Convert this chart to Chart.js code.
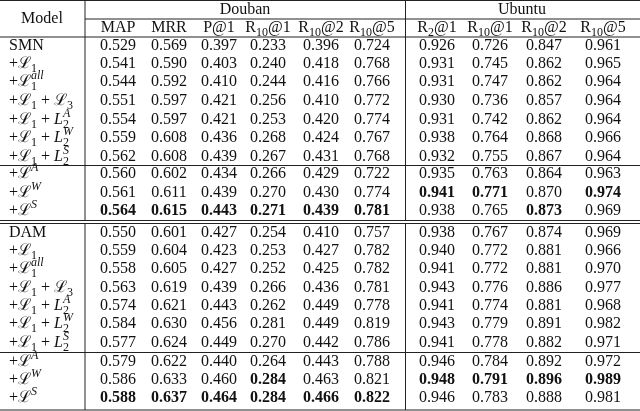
<!DOCTYPE html>
<html><head><meta charset="utf-8">
<script src="https://cdn.jsdelivr.net/npm/chart.js@4"></script>
<style>html,body{margin:0;background:#fff}#wrap{width:640px;height:411px}</style>
</head><body><div id="wrap"><canvas id="c"></canvas></div>
<script>
// Table content
const groups = ['Douban', 'Ubuntu'];
const columns = ['MAP', 'MRR', 'P@1', 'R_10@1', 'R_10@2', 'R_10@5', 'R_2@1', 'R_10@1', 'R_10@2', 'R_10@5'];
const models = [
  'SMN', '+ℒ_1', '+ℒ_1^all', '+ℒ_1 + ℒ_3', '+ℒ_1 + L_2^A', '+ℒ_1 + L_2^W', '+ℒ_1 + L_2^S', '+ℒ^A', '+ℒ^W', '+ℒ^S',
  'DAM', '+ℒ_1', '+ℒ_1^all', '+ℒ_1 + ℒ_3', '+ℒ_1 + L_2^A', '+ℒ_1 + L_2^W', '+ℒ_1 + L_2^S', '+ℒ^A', '+ℒ^W', '+ℒ^S'
];
const values = [
  ['0.529','0.569','0.397','0.233','0.396','0.724','0.926','0.726','0.847','0.961'],
  ['0.541','0.590','0.403','0.240','0.418','0.768','0.931','0.745','0.862','0.965'],
  ['0.544','0.592','0.410','0.244','0.416','0.766','0.931','0.747','0.862','0.964'],
  ['0.551','0.597','0.421','0.256','0.410','0.772','0.930','0.736','0.857','0.964'],
  ['0.554','0.597','0.421','0.253','0.420','0.774','0.931','0.742','0.862','0.964'],
  ['0.559','0.608','0.436','0.268','0.424','0.767','0.938','0.764','0.868','0.966'],
  ['0.562','0.608','0.439','0.267','0.431','0.768','0.932','0.755','0.867','0.964'],
  ['0.560','0.602','0.434','0.266','0.429','0.722','0.935','0.763','0.864','0.963'],
  ['0.561','0.611','0.439','0.270','0.430','0.774','0.941','0.771','0.870','0.974'],
  ['0.564','0.615','0.443','0.271','0.439','0.781','0.938','0.765','0.873','0.969'],
  ['0.550','0.601','0.427','0.254','0.410','0.757','0.938','0.767','0.874','0.969'],
  ['0.559','0.604','0.423','0.253','0.427','0.782','0.940','0.772','0.881','0.966'],
  ['0.558','0.605','0.427','0.252','0.425','0.782','0.941','0.772','0.881','0.970'],
  ['0.563','0.619','0.439','0.266','0.436','0.781','0.943','0.776','0.886','0.977'],
  ['0.574','0.621','0.443','0.262','0.449','0.778','0.941','0.774','0.881','0.968'],
  ['0.584','0.630','0.456','0.281','0.449','0.819','0.943','0.779','0.891','0.982'],
  ['0.577','0.624','0.449','0.270','0.442','0.786','0.941','0.778','0.882','0.971'],
  ['0.579','0.622','0.440','0.264','0.443','0.788','0.946','0.784','0.892','0.972'],
  ['0.586','0.633','0.460','0.284','0.463','0.821','0.948','0.791','0.896','0.989'],
  ['0.588','0.637','0.464','0.284','0.466','0.822','0.946','0.783','0.888','0.981']
];
// [row, col] of bold cells
const bold = [
  [8,6],[8,7],[8,9],
  [9,0],[9,1],[9,2],[9,3],[9,4],[9,5],[9,8],
  [18,3],[18,6],[18,7],[18,8],[18,9],
  [19,0],[19,1],[19,2],[19,3],[19,4],[19,5]
];

// layout (pixel units on the chart's linear scales)
const colX = [118, 169, 219, 268, 321, 372, 437, 490, 544, 603];
const rowY = [46,64,82,101,120,138,157,174,193,211, 233,251,269,288,306,324,343,362,380,398];
const font = '"Liberation Serif", serif';
const SIZE = 16;

function parseRich(s) {
  const parts = [];
  let i = 0, buf = '';
  while (i < s.length) {
    const ch = s[i];
    if (ch === '_' || ch === '^') {
      if (buf) { parts.push({t: buf}); buf = ''; }
      const m = s.slice(i + 1).match(/^(all|[0-9]+|[A-Za-z])/);
      parts.push({t: m[0], k: ch});
      i += 1 + m[0].length;
    } else { buf += ch; i++; }
  }
  if (buf) parts.push({t: buf});
  return parts;
}

function drawRich(ctx, s, x, y, align) {
  const parts = parseRich(s);
  const big = SIZE + 'px ' + font, small = '12px ' + font;
  const italBig = 'italic ' + big, italSmall = 'italic ' + small;
  // split plain text so a trailing "L" is italic
  const items = [];
  parts.forEach((pt, p) => {
    if (!pt.k) {
      if (/L$/.test(pt.t)) {
        if (pt.t.length > 1) items.push({t: pt.t.slice(0, -1), f: big, dy: 0, adv: true});
        items.push({t: 'L', f: italBig, dy: 0, adv: true});
      } else items.push({t: pt.t, f: big, dy: 0, adv: true});
    } else {
      const f = /[A-Za-z]/.test(pt.t) ? italSmall : small;
      const next = parts[p + 1];
      items.push({t: pt.t, f: f, dy: pt.k === '_' ? 5 : -6, adv: !(pt.k === '_' && next && next.k === '^')});
    }
  });
  const meas = items.map(it => { ctx.font = it.f; return ctx.measureText(it.t).width; });
  let w = 0, pending = 0;
  items.forEach((it, k) => { pending = Math.max(pending, meas[k]); if (it.adv) { w += pending; pending = 0; } });
  let sx = align === 'center' ? x - w / 2 : x;
  ctx.textAlign = 'left'; ctx.textBaseline = 'middle';
  pending = 0;
  items.forEach((it, k) => {
    ctx.font = it.f;
    ctx.fillText(it.t, sx, y + it.dy);
    pending = Math.max(pending, meas[k]);
    if (it.adv) { sx += pending; pending = 0; }
  });
}

const tablePlugin = {
  id: 'table',
  afterDraw(chart) {
    const ctx = chart.ctx, xs = chart.scales.x, ys = chart.scales.y;
    const X = v => xs.getPixelForValue(v), Y = v => ys.getPixelForValue(v);
    ctx.save();
    ctx.fillStyle = '#111'; ctx.strokeStyle = '#222';
    const hline = (y, x0, x1) => { ctx.lineWidth = 1; ctx.beginPath(); ctx.moveTo(X(x0), Y(y)); ctx.lineTo(X(x1), Y(y)); ctx.stroke(); };
    const vline = (x, y0, y1) => { ctx.lineWidth = 1; ctx.beginPath(); ctx.moveTo(X(x), Y(y0)); ctx.lineTo(X(x), Y(y1)); ctx.stroke(); };
    hline(0.5, 0, 640); hline(37, 0, 640); hline(165.5, 0, 640);
    hline(220.5, 0, 640); hline(223.5, 0, 640); hline(352.5, 0, 640); hline(410, 0, 640);
    hline(19, 85, 640);
    vline(85, 0, 220.5); vline(85, 223.5, 410);
    vline(405.5, 0, 220.5); vline(405.5, 223.5, 410);
    ctx.textAlign = 'center'; ctx.textBaseline = 'middle';
    ctx.font = SIZE + 'px ' + font;
    ctx.fillText('Model', X(42), Y(19));
    ctx.fillText(groups[0], X(245), Y(10));
    ctx.fillText(groups[1], X(522), Y(10));
    columns.forEach((c, i) => drawRich(ctx, c, X(colX[i]), Y(28), 'center'));
    models.forEach((m, r) => {
      drawRich(ctx, m, X(9), Y(rowY[r]), 'left');
      values[r].forEach((v, c) => {
        const b = bold.some(p => p[0] === r && p[1] === c);
        ctx.font = (b ? 'bold ' : '') + SIZE + 'px ' + font;
        ctx.textAlign = 'center';
        ctx.fillText(v, X(colX[c]), Y(rowY[r]));
      });
    });
    ctx.restore();
  }
};

new Chart(document.getElementById('c'), {
  type: 'scatter',
  data: { datasets: [{ data: [] }] },
  options: {
    responsive: true, maintainAspectRatio: false, animation: false,
    layout: { padding: 0 },
    plugins: { legend: { display: false }, tooltip: { enabled: false } },
    scales: {
      x: { type: 'linear', min: 0, max: 640, display: false },
      y: { type: 'linear', min: 0, max: 411, reverse: true, display: false }
    }
  },
  plugins: [tablePlugin]
});
</script></body></html>
